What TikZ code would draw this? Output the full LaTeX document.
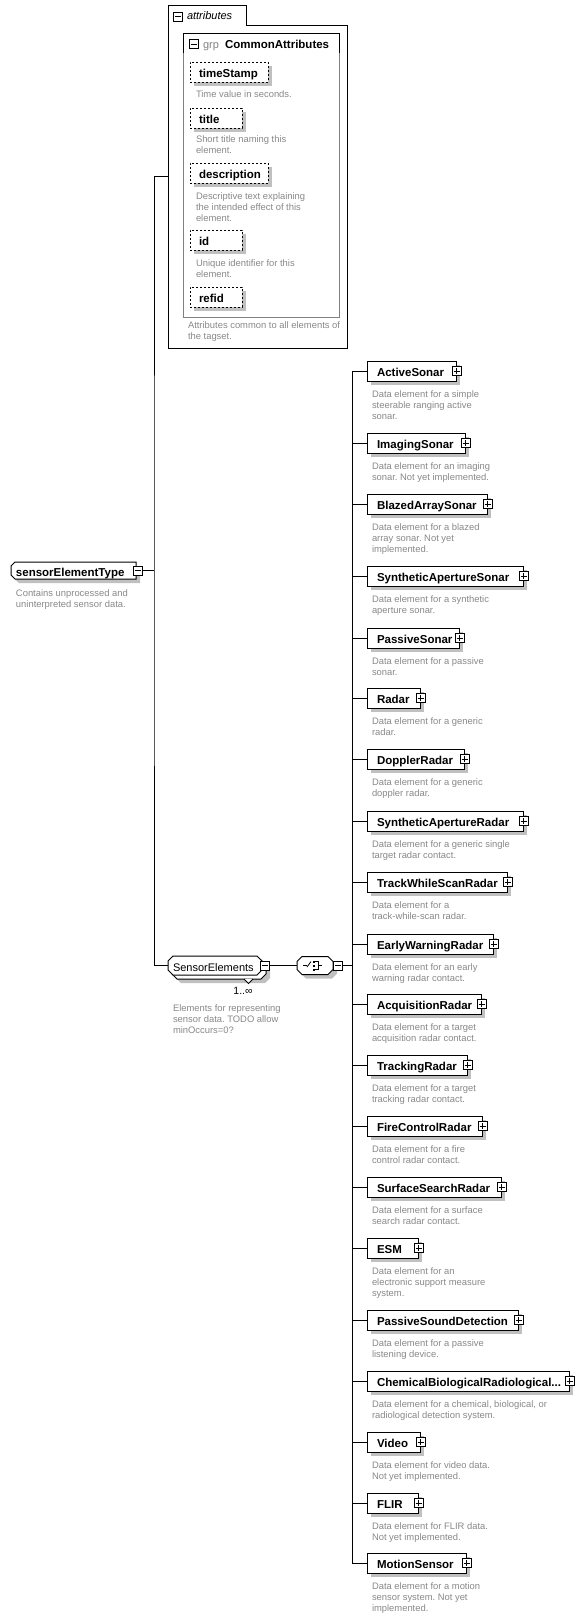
\documentclass[tikz,border=0pt]{standalone}
\usepackage{fontspec}
\setmainfont{Liberation Sans}
\pgfdeclarelayer{background}
\pgfsetlayers{background,main}
\definecolor{shadowc}{RGB}{192,192,192}
\definecolor{desccol}{RGB}{136,136,136}
\definecolor{grpgray}{RGB}{128,128,128}
\tikzset{
  every node/.style={inner sep=0pt, outer sep=0pt},
  conn/.style={line width=1pt, black},
  shadowed/.style={preaction={fill=shadowc, transform canvas={shift={(4pt,-4pt)}}}},
  lblfont/.style={font=\bfseries\fontsize{11.5}{13}\selectfont, text height=11.5pt, text depth=0.5pt},
  elem/.style={lblfont, shadowed, draw, line width=1pt, fill=white, minimum height=20pt, inner xsep=10pt, align=left, anchor=north west},
  attrbox/.style={elem, dash pattern=on 2pt off 2pt, inner xsep=9pt},
  icon/.style={draw, line width=0.8pt, fill=white, minimum size=9pt},
  plusicon/.style={icon, path picture={\draw[line width=0.8pt] ([xshift=-3pt]path picture bounding box.center) -- ([xshift=3pt]path picture bounding box.center) ([yshift=-3pt]path picture bounding box.center) -- ([yshift=3pt]path picture bounding box.center);}},
  minusicon/.style={icon, path picture={\draw[line width=0.8pt] ([xshift=-3pt]path picture bounding box.center) -- ([xshift=3pt]path picture bounding box.center);}},
  desc/.style={anchor=north west, align=left, font=\fontsize{9.4}{11}\selectfont\frenchspacing, text=desccol},
  outline/.style={draw, fill=white, line width=1pt},
}
% chamfered outline round a node: #1 node, #2 left chamfer, #3 right chamfer, #4 path options
\newcommand\chamfpath[4]{%
  \path[#4] ([xshift=#2]#1.north west) -- ([xshift=-#3]#1.north east) -- ([yshift=-#3]#1.north east) -- ([yshift=#3]#1.south east) -- ([xshift=-#3]#1.south east) -- ([xshift=#2]#1.south west) -- ([yshift=#2]#1.south west) -- ([yshift=-#2]#1.north west) -- cycle;
}
\newcommand\childbox[5]{%
  \node[elem, text width=#3pt] (c#1) at (367,#2) {#4};
  \node[plusicon] (cp#1) at ([xshift=0.5pt]c#1.east) {};
  \node[desc] (cd#1) at (372,#2+29.4) {#5};
  \draw[conn] (c#1.west -| bus) -- (c#1.west);
}
\begin{document}
\begin{tikzpicture}[x=1pt,y=-1pt]
\useasboundingbox (0,0) rectangle (581,1618);
% ---------- attributes container ----------
\node[anchor=north west, minimum width=179pt, minimum height=343pt] (attrs) at (168,5) {};
\node[anchor=north west, minimum width=78pt, minimum height=20pt] (attrtab) at (168,5) {};
\draw[line width=1pt] (attrs.north west) -- (attrtab.north east) -- (attrtab.south east) -- (attrtab.south east -| attrs.east) -- (attrs.south east) -- (attrs.south west) -- cycle;
\node[minusicon] (attrmin) at (178,16.5) {};
\node[anchor=base west, font=\itshape\fontsize{11}{13}\selectfont] (attrlbl) at (187,19.5) {attributes};
% group
\node[anchor=north west, minimum width=156pt, minimum height=284pt] (grp) at (183,33) {};
\node[anchor=north west, minimum width=156pt, minimum height=20pt] (grphead) at (183,33) {};
\draw[line width=1pt] (grphead.south west) -- (grphead.north west) -- (grphead.north east) -- (grphead.south east);
\draw[line width=1pt, grpgray] (grphead.south east) -- (grp.south east) -- (grp.south west) -- (grphead.south west);
\node[minusicon] (grpmin) at (193.5,44) {};
\node[anchor=base west, font=\fontsize{11}{13}\selectfont, text=grpgray] (grplbl) at (203,48) {grp};
\node[anchor=base west, font=\bfseries\fontsize{11.5}{13}\selectfont] (grpname) at (225,48) {CommonAttributes};
% attribute boxes
\node[attrbox, text width=60pt] (a1) at (190,62) {timeStamp};
\node[desc] (ad1) at (196,90.4) {Time value in seconds.};
\node[attrbox, text width=34pt] (a2) at (190,108) {title};
\node[desc] (ad2) at (196,135.4) {Short title naming this\\element.};
\node[attrbox, text width=60pt] (a3) at (190,163) {description};
\node[desc] (ad3) at (196,192.4) {Descriptive text explaining\\the intended effect of this\\element.};
\node[attrbox, text width=34pt] (a4) at (190,230) {id};
\node[desc] (ad4) at (196,259.4) {Unique identifier for this\\element.};
\node[attrbox, text width=34pt] (a5) at (190,287) {refid};
\node[desc] (afoot) at (188,321.4) {Attributes common to all elements of\\the tagset.};
% ---------- root type ----------
\node[lblfont, minimum width=125pt, minimum height=17pt, inner xsep=5pt, text width=115pt, align=left, anchor=north west] (setype) at (11,562) {sensorElementType};
\begin{pgfonlayer}{background}
  \chamfpath{setype}{4pt}{0pt}{fill=shadowc, transform canvas={shift={(4pt,-4pt)}}}
  \chamfpath{setype}{4pt}{0pt}{outline}
\end{pgfonlayer}
\node[minusicon] (setypemin) at ([xshift=2pt]setype.east) {};
\node[desc] (setypedesc) at (16,589.4) {Contains unprocessed and\\uninterpreted sensor data.};
\coordinate (j) at (154,570.5);
\draw[conn] (setypemin.east) -- (j);
% ---------- SensorElements ----------
\node[minimum width=94pt, minimum height=19pt, anchor=north west, font=\fontsize{11}{13}\selectfont, text height=11.5pt, text depth=0.5pt, inner xsep=5pt, text width=84pt, align=left] (se) at (168,956) {SensorElements};
\begin{pgfonlayer}{background}
  \chamfpath{se}{5pt}{5pt}{fill=shadowc, transform canvas={shift={(8pt,-8pt)}}}
  \chamfpath{se}{5pt}{5pt}{outline, transform canvas={shift={(4pt,-4pt)}}}
  \chamfpath{se}{5pt}{5pt}{outline}
\end{pgfonlayer}
\draw[line width=0.8pt, fill=white] ([xshift=-18pt,yshift=-4pt]se.south east) -- ++(4.5,4.5) -- ++(4.5,-4.5);
\node[minusicon] (semin) at ([xshift=3pt]se.east) {};
\node[font=\fontsize{10.5}{12}\selectfont] (mult) at (243,991) {1..∞};
\node[desc] (sedesc) at (173,1004.4) {Elements for representing\\sensor data. TODO allow\\minOccurs=0?};
\draw[conn] (attrs.west) -| (j) |- (se.west);
% ---------- sequence ----------
\node[minimum width=36pt, minimum height=18pt, anchor=north west] (seq) at (297,956.5) {};
\begin{pgfonlayer}{background}
  \chamfpath{seq}{5pt}{5pt}{fill=shadowc, transform canvas={shift={(4pt,-4pt)}}}
  \chamfpath{seq}{5pt}{5pt}{outline}
\end{pgfonlayer}
\begin{scope}[shift={(seq.center)}, line width=0.8pt]
  \draw (-12,0) -- (-8,0);
  \draw (-8,1.5) -- (-4,-4);
  \fill (-2,-5) rectangle (0,-3);
  \fill (-2,-1) rectangle (0,1);
  \fill (-2,3) rectangle (0,5);
  \draw (0,-4) -- (3,-4) -- (3,4) -- (0,4);
  \draw (3,0) -- (7,0);
\end{scope}
\node[minusicon] (seqmin) at ([xshift=5pt]seq.east) {};
\coordinate (bus) at (352,965.5);
\draw[conn] (semin.east) -- (seq.west);
\draw[conn] (seqmin.east) -- (bus);
% ---------- children ----------
\childbox{1}{361}{69}{ActiveSonar}{Data element for a simple\\steerable ranging active\\sonar.}
\childbox{2}{433}{78}{ImagingSonar}{Data element for an imaging\\sonar. Not yet implemented.}
\childbox{3}{494}{100}{BlazedArraySonar}{Data element for a blazed\\array sonar. Not yet\\implemented.}
\childbox{4}{566}{136}{SyntheticApertureSonar}{Data element for a synthetic\\aperture sonar.}
\childbox{5}{628}{72}{PassiveSonar}{Data element for a passive\\sonar.}
\childbox{6}{688}{33}{Radar}{Data element for a generic\\radar.}
\childbox{7}{749}{77}{DopplerRadar}{Data element for a generic\\doppler radar.}
\childbox{8}{811}{136}{SyntheticApertureRadar}{Data element for a generic single\\target radar contact.}
\childbox{9}{872}{120}{TrackWhileScanRadar}{Data element for a\\track-while-scan radar.}
\childbox{10}{934}{106}{EarlyWarningRadar}{Data element for an early\\warning radar contact.}
\childbox{11}{994}{94}{AcquisitionRadar}{Data element for a target\\acquisition radar contact.}
\childbox{12}{1055}{80}{TrackingRadar}{Data element for a target\\tracking radar contact.}
\childbox{13}{1116}{95}{FireControlRadar}{Data element for a fire\\control radar contact.}
\childbox{14}{1177}{114}{SurfaceSearchRadar}{Data element for a surface\\search radar contact.}
\childbox{15}{1238}{31}{ESM}{Data element for an\\electronic support measure\\system.}
\childbox{16}{1310}{131}{PassiveSoundDetection}{Data element for a passive\\listening device.}
\childbox{17}{1371}{182}{ChemicalBiologicalRadiological...}{Data element for a chemical, biological, or\\radiological detection system.}
\childbox{18}{1432}{33}{Video}{Data element for video data.\\Not yet implemented.}
\childbox{19}{1493}{31}{FLIR}{Data element for FLIR data.\\Not yet implemented.}
\childbox{20}{1553}{79}{MotionSensor}{Data element for a motion\\sensor system. Not yet\\implemented.}
\draw[conn] (c1.west -| bus) -- (c20.west -| bus);
\end{tikzpicture}
\end{document}
